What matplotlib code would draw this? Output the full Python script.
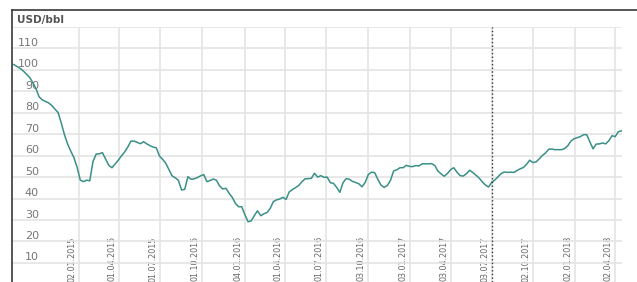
import pandas as pd
import matplotlib
matplotlib.use('Agg')
from matplotlib import pyplot as plt
from matplotlib.transforms import ScaledTranslation
from matplotlib.lines import Line2D

# weekly Brent price, USD/bbl (from mid Aug 2014)
brent = [102.5, 101.6, 100.7, 99.5, 98.0, 96.5, 94.1, 91.2, 87.4, 86.0,
         85.3, 84.6, 83.4, 81.7, 80.1, 75.2, 69.8, 65.4, 62.1, 59.1,
         54.6, 48.6, 47.9, 48.6, 48.3, 57.2, 60.7, 60.9, 61.4, 58.4,
         55.5, 54.4, 56.1, 57.9, 59.9, 61.7, 64.0, 66.8, 66.8, 66.2,
         65.6, 66.5, 65.5, 64.7, 64.0, 63.7, 59.9, 58.3, 56.5, 53.6,
         50.6, 49.7, 48.5, 44.0, 44.3, 50.2, 49.0, 49.2, 49.8, 50.6,
         51.2, 47.9, 48.4, 49.1, 48.6, 45.9, 44.5, 44.8, 42.5, 40.6,
         37.8, 36.2, 36.2, 32.5, 29.2, 29.6, 32.1, 34.3, 32.0, 32.9,
         33.5, 35.4, 38.6, 39.4, 39.8, 40.6, 39.6, 43.1, 44.2, 45.1,
         46.1, 47.8, 49.2, 49.3, 49.4, 51.8, 50.0, 50.7, 49.9, 50.0,
         47.4, 47.1, 45.2, 42.9, 47.4, 49.3, 49.0, 48.0, 47.5, 46.9,
         45.5, 47.5, 51.2, 52.3, 52.1, 49.0, 46.3, 45.2, 46.1, 48.5,
         52.9, 53.4, 54.4, 54.4, 55.5, 55.0, 54.9, 55.4, 55.2, 56.2,
         56.2, 56.2, 56.3, 55.4, 52.8, 51.5, 50.4, 51.7, 53.5, 54.4,
         52.3, 50.7, 50.5, 51.6, 53.2, 52.2, 50.9, 49.6, 47.8, 46.3,
         45.4, 47.6, 48.7, 50.2, 51.7, 52.4, 52.2, 52.3, 52.2, 53.1,
         53.9, 54.5, 56.0, 57.9, 56.8, 57.1, 58.5, 60.1, 61.3, 63.0,
         63.1, 62.8, 62.8, 62.8, 63.3, 64.6, 66.8, 67.9, 68.4, 68.9,
         69.8, 69.8, 66.4, 63.2, 65.4, 65.5, 65.9, 65.5, 67.0, 69.3,
         68.9, 71.2, 71.6]
weeks = pd.date_range('2014-08-11', periods=len(brent), freq='7D')

tick_dates = pd.to_datetime(['2015-01-02', '2015-04-01', '2015-07-01', '2015-10-01',
                             '2016-01-04', '2016-04-01', '2016-07-01', '2016-10-03',
                             '2017-01-03', '2017-04-03', '2017-07-03', '2017-10-02',
                             '2018-01-02', '2018-04-02'])
y_ticks = [10, 20, 30, 40, 50, 60, 70, 80, 90, 100, 110, 120]
y_labels = [str(v) for v in y_ticks[:-1]] + ['']
marker_date = pd.Timestamp('2017-07-03')

fig = plt.figure(figsize=(6.37, 2.82), dpi=100)
ax = fig.add_axes([12 / 637, 0, 610 / 637, 255 / 282])

ax.plot(weeks, brent, color='#3a8f87', lw=1.1)
ax.axvline(marker_date, color='#333333', ls=':', lw=1)

ax.set_xlim(pd.Timestamp('2014-08-07'), pd.Timestamp('2018-04-17'))
ax.set_ylim(1.1, 120)
ax.set_xticks(tick_dates)
ax.set_xticklabels([d.strftime('%d.%m.%Y') for d in tick_dates])
ax.set_yticks(y_ticks)
ax.set_yticklabels(y_labels)

ax.grid(color='#e4e4e4', lw=1.2)
ax.set_axisbelow(True)
for s in ax.spines.values():
    s.set_visible(False)

ax.tick_params(axis='y', length=0, pad=-19.4, labelsize=8, labelcolor='#777777')
ax.tick_params(axis='x', length=0, pad=-33, labelsize=5.8, labelcolor='#666666',
               labelrotation=90)

# labels sit a bit above the gridlines / left of the date lines
up = ScaledTranslation(0, 0.065, fig.dpi_scale_trans)
for lab in ax.get_yticklabels():
    lab.set_transform(lab.get_transform() + up)
left = ScaledTranslation(-0.07, 0, fig.dpi_scale_trans)
for lab in ax.get_xticklabels():
    lab.set_transform(lab.get_transform() + left)

# outer frame (top and left)
top_y = 1 - 10 / 282
fig.add_artist(Line2D([12 / 637, 1], [top_y, top_y], transform=fig.transFigure,
                      color='#3a3a3a', lw=1.2))
fig.add_artist(Line2D([12 / 637, 12 / 637], [0, top_y], transform=fig.transFigure,
                      color='#3a3a3a', lw=1.2))

fig.text(17 / 637, 1 - 20 / 282, 'USD/bbl', fontsize=7.5, fontweight='bold',
         color='#555555', va='center')

fig.savefig('out.png', dpi=100)
